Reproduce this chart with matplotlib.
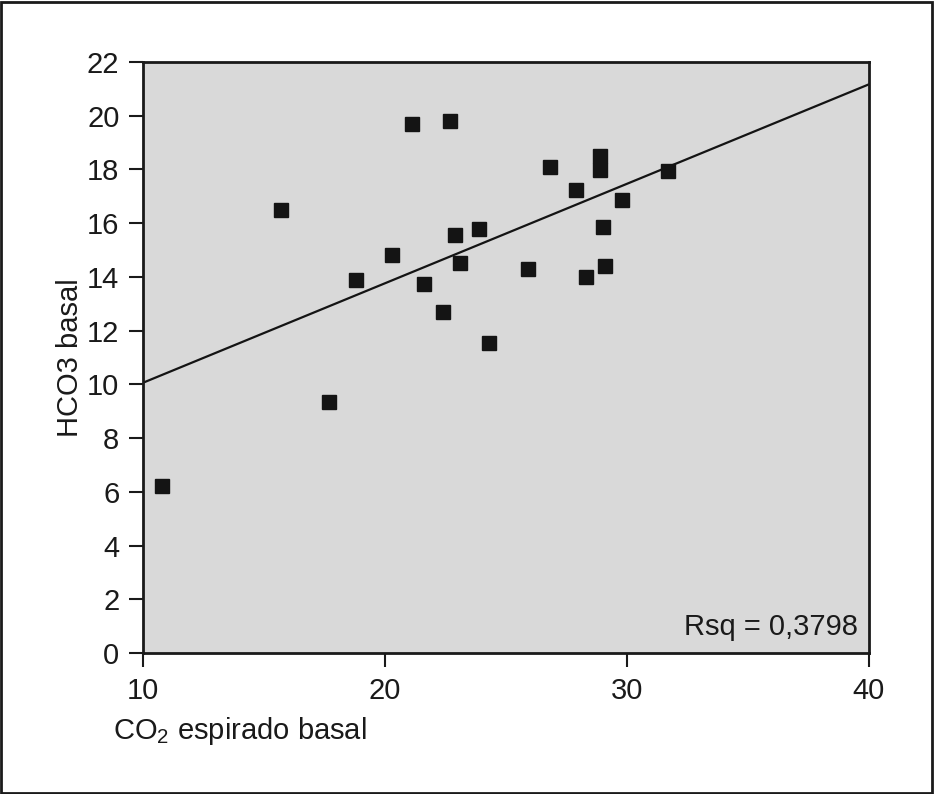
import matplotlib
matplotlib.use("Agg")
import matplotlib.pyplot as plt
from matplotlib.patches import Rectangle

# CO2 espirado basal vs HCO3 basal
co2_basal = [10.8, 15.7, 17.7, 18.8, 20.3, 21.1, 21.6, 22.4, 22.7, 22.9, 23.1,
             23.9, 24.3, 25.9, 26.8, 27.9, 28.3, 28.9, 28.9, 29.0, 29.1, 29.8, 31.7]
hco3_basal = [6.2, 16.5, 9.35, 13.9, 14.8, 19.7, 13.75, 12.7, 19.8, 15.55, 14.5,
              15.8, 11.55, 14.3, 18.1, 17.25, 14.0, 18.5, 17.98, 15.85, 14.42, 16.85, 17.95]
# regression line as printed (ends at the axis limits)
fit_x = [10, 40]
fit_y = [10.06, 21.17]
rsq_text = "Rsq = 0,3798"

plt.rcParams["font.family"] = ["Liberation Sans", "DejaVu Sans"]
plt.rcParams["mathtext.fontset"] = "custom"
plt.rcParams["mathtext.rm"] = "Liberation Sans"

fig = plt.figure(figsize=(9.34, 7.94), dpi=100)
ax = fig.add_axes([143 / 934, 141 / 794, 726 / 934, 591 / 794])
ax.set_facecolor("#d9d9d9")

ax.plot(co2_basal, hco3_basal, linestyle="none", marker="s", markersize=9.6,
        color="#141414", zorder=3)
ax.plot(fit_x, fit_y, color="#141414", linewidth=1.6, zorder=2)

ax.set_xlim(10, 40)
ax.set_ylim(0, 22)
ax.set_xticks([10, 20, 30, 40])
ax.set_yticks(range(0, 23, 2))
ax.tick_params(direction="out", length=10, width=1.5, labelsize=21, pad=7, colors="#1a1a1a")
for spine in ax.spines.values():
    spine.set_linewidth(2)
    spine.set_color("#1a1a1a")

ax.text(0.985, 0.03, rsq_text, transform=ax.transAxes, ha="right", va="baseline",
        fontsize=21, color="#1a1a1a")

fig.text(113 / 934, 1 - 731 / 794, r"CO$_\mathregular{2}$ espirado basal", ha="left",
         va="center", fontsize=21, color="#1a1a1a")
fig.text(70 / 934, 1 - 358 / 794, "HCO3 basal", rotation=90, ha="center", va="center",
         fontsize=21, color="#1a1a1a")

fig.patches.append(Rectangle((0.001, 0.001), 0.997, 0.997, transform=fig.transFigure,
                             fill=False, edgecolor="#1a1a1a", linewidth=2))

fig.savefig("out.png", dpi=100)
